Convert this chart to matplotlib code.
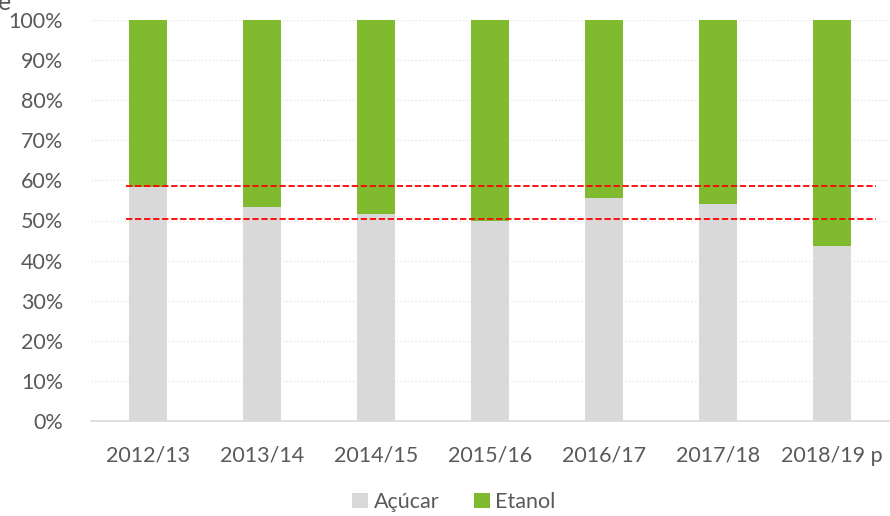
import matplotlib
matplotlib.use("Agg")
import matplotlib.pyplot as plt

categories = ["2012/13", "2013/14", "2014/15", "2015/16", "2016/17", "2017/18", "2018/19 p"]
acucar = [58.4, 53.4, 51.5, 49.9, 55.5, 54.2, 43.7]
etanol = [100 - v for v in acucar]
ref_lines = [58.5, 50.4]
yticks = [0, 10, 20, 30, 40, 50, 60, 70, 80, 90, 100]
ytick_labels = [f"{v}%" for v in yticks]

plt.rcParams['font.family'] = ['Lato', 'DejaVu Sans']
text_color = "#595959"

fig = plt.figure(figsize=(8.9, 5.16), dpi=100)
ax = fig.add_axes([91/890, (516-421)/516, 798/890, 401/516])

x = list(range(len(categories)))
ax.bar(x, acucar, width=0.33, color="#D9D9D9", label="Açúcar", zorder=2)
ax.bar(x, etanol, width=0.33, bottom=acucar, color="#7FBA2F", label="Etanol", zorder=2)

for v in ref_lines:
    ax.plot([-0.19, 6.39], [v, v], color="#FF0000", linestyle=(0, (3.5, 1.5)), linewidth=1.3, zorder=3)

ax.set_xlim(-0.5, 6.5)
ax.set_ylim(0, 100)
ax.set_yticks(yticks)
ax.set_yticklabels(ytick_labels)
ax.set_xticks(x)
ax.set_xticklabels(categories)
ax.tick_params(axis='both', length=0, labelsize=15.5, colors=text_color)
ax.tick_params(axis='x', pad=18)
ax.tick_params(axis='y', pad=20)
ax.yaxis.grid(True, color="#E6E6E6", linestyle=":", linewidth=1, zorder=0)
ax.set_axisbelow(True)
for s in ["top", "right", "left"]:
    ax.spines[s].set_visible(False)
ax.spines["bottom"].set_color("#D9D9D9")
ax.spines["bottom"].set_linewidth(1.2)

leg = fig.legend(loc="lower center", bbox_to_anchor=(0.51, -0.03), ncol=2, frameon=False,
                 fontsize=15.5, handlelength=0.75, handleheight=0.75, handletextpad=0.25,
                 columnspacing=1.6)
for t in leg.get_texts():
    t.set_color(text_color)

fig.text(-0.002, 1.018, "e", fontsize=18, color=text_color, va="top", ha="left")

fig.savefig("out.png", dpi=100)
